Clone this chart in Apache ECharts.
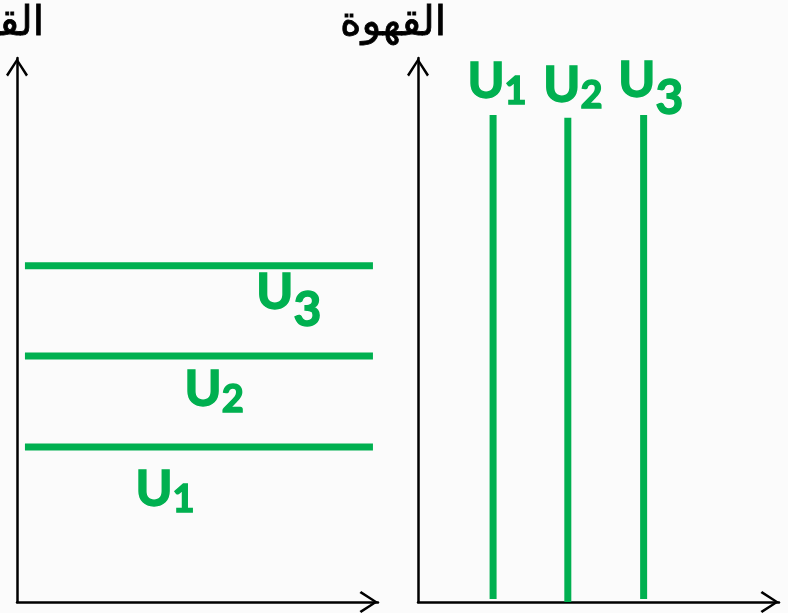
<!DOCTYPE html>
<html><head><meta charset="utf-8">
<script src="https://cdn.jsdelivr.net/npm/echarts@6/dist/echarts.min.js"></script>
<style>html,body{margin:0;padding:0;background:#fbfbfb}#c{width:788px;height:613px}</style>
</head><body><div id="c"></div>
<script>
const curveNames = ['U1', 'U2', 'U3'];
// left panel: horizontal lines
const leftLevels = [28.5, 45.2, 61.8];
const leftSpan = [2.2, 98.6];
const leftLabelX = [41.0, 54.6, 75.3];
const leftLabelY = [25.2, 43.6, 61.5];
// right panel: vertical lines
const rightPositions = [20.8, 41.5, 62.5];
const rightBottoms = [0.55, 0, 0.55];
const rightTops = [89.5, 89.0, 89.5];
const rightLabelX = [21.9, 42.9, 64.5];
const rightLabelY = [100.2, 99.5, 100.4];
const axisTitles = ['القهوة', 'القهوة'];

const GREEN = '#00b050';
const arrowPath = 'path://M11,0 L22,16.8 L20,18.5 L11,4.2 L2,18.5 L0,16.8 Z';

function axis(gridIndex) {
  return {
    gridIndex, type: 'value', min: 0, max: 100,
    axisLine: { show: true, onZero: false, lineStyle: { color: '#000', width: 2.5 },
      symbol: ['none', arrowPath], symbolSize: [22, 18.5], symbolOffset: [0, -9.25] },
    axisTick: { show: false }, axisLabel: { show: false }, splitLine: { show: false }
  };
}

const txt = { fontFamily: 'Lato', fontWeight: 'bold', color: GREEN, textBorderColor: GREEN, textBorderWidth: 1.5, verticalAlign: 'top' };
const rich = {
  u: Object.assign({ fontSize: 50, lineHeight: 60 }, txt),
  d: Object.assign({ fontSize: 38, lineHeight: 38, padding: [16, 0, 6, 0] }, txt),
  d3: Object.assign({ fontSize: 48, lineHeight: 48, padding: [19, 0, 0, 0] }, txt)
};
function fmt(name) {
  const digit = name.slice(1);
  return '{u|U}{' + (digit === '3' ? 'd3' : 'd') + '|' + digit + '}';
}

const series = [];
leftLevels.forEach((lv, i) => {
  series.push({ type: 'line', xAxisIndex: 0, yAxisIndex: 0, name: curveNames[i], symbol: 'none', silent: true,
    lineStyle: { color: GREEN, width: 7, cap: 'butt' },
    data: [[leftSpan[0], lv], [leftSpan[1], lv]] });
});
rightPositions.forEach((x, i) => {
  series.push({ type: 'line', xAxisIndex: 1, yAxisIndex: 1, name: curveNames[i], symbol: 'none', silent: true,
    lineStyle: { color: GREEN, width: 7, cap: 'butt' },
    data: [[x, rightBottoms[i]], [x, rightTops[i]]] });
});
const labelCfg = { show: true, position: 'inside', align: 'center', verticalAlign: 'top',
  formatter: p => fmt(p.data[2]), rich };
series.push({ type: 'scatter', xAxisIndex: 0, yAxisIndex: 0, symbolSize: 0, clip: false, silent: true,
  itemStyle: { opacity: 1, color: GREEN }, label: labelCfg,
  data: curveNames.map((n, i) => [leftLabelX[i], leftLabelY[i], n]) });
series.push({ type: 'scatter', xAxisIndex: 1, yAxisIndex: 1, symbolSize: 0, clip: false, silent: true,
  itemStyle: { opacity: 1, color: GREEN }, label: labelCfg,
  data: curveNames.map((n, i) => [rightLabelX[i], rightLabelY[i], n]) });

const titleStyle = { fontFamily: 'DejaVu Sans', fontSize: 41, fontWeight: 'normal', color: '#000',
  textBorderColor: '#000', textBorderWidth: 0.8 };
const chart = echarts.init(document.getElementById('c'));
chart.setOption({
  animation: false,
  backgroundColor: '#fbfbfb',
  title: [
    { text: axisTitles[0], right: 743, top: 4, padding: 0, textStyle: titleStyle },
    { text: axisTitles[1], right: 341, top: 4, padding: 0, textStyle: titleStyle }
  ],
  grid: [
    { left: 17, right: 410, top: 58, bottom: 11 },
    { left: 418, right: 9, top: 58, bottom: 11 }
  ],
  xAxis: [axis(0), axis(1)],
  yAxis: [axis(0), axis(1)],
  series
});
</script></body></html>
